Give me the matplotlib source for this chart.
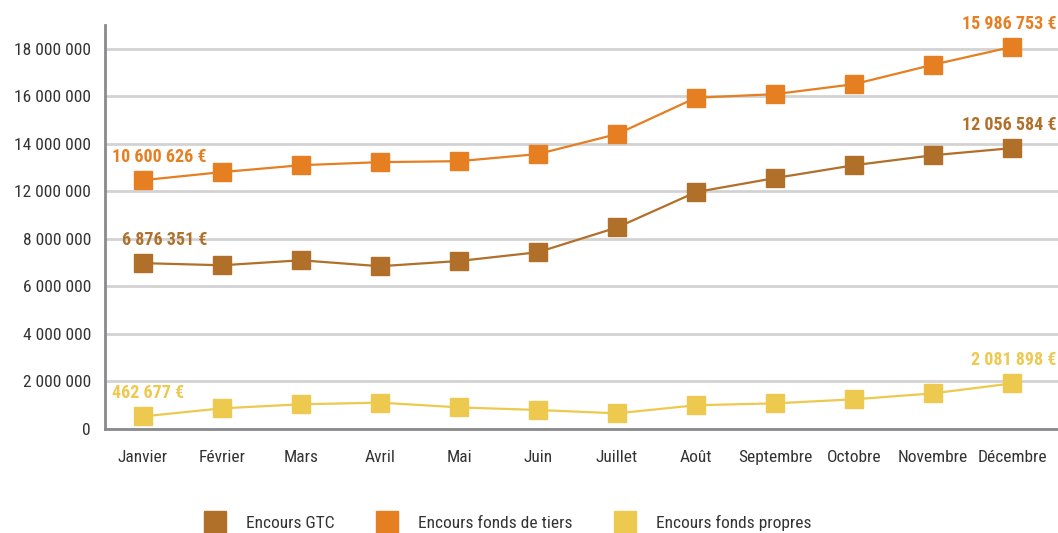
import matplotlib.pyplot as plt
from matplotlib.lines import Line2D
from matplotlib import font_manager

mois = ["Janvier", "Février", "Mars", "Avril", "Mai", "Juin", "Juillet",
        "Août", "Septembre", "Octobre", "Novembre", "Décembre"]

# values, in the chart's own (irregular) axis units, millions
gtc = [6.98, 6.89, 7.10, 6.85, 7.07, 7.44, 8.48, 9.97, 10.56, 11.10, 11.52, 11.82]
tiers = [10.47, 10.81, 11.10, 11.23, 11.27, 11.57, 12.41, 13.94, 14.09, 14.51, 15.33, 16.08]
propres = [0.53, 0.87, 1.04, 1.11, 0.91, 0.80, 0.66, 1.00, 1.08, 1.25, 1.50, 1.92]

tick_pos = [0, 2, 4, 6, 8, 10, 12, 14, 16]
tick_labels = ["0", "2 000 000", "4 000 000", "6 000 000", "8 000 000",
               "12 000 000", "14 000 000", "16 000 000", "18 000 000"]

first_labels = ["6 876 351 €", "10 600 626 €", "462 677 €"]
last_labels = ["12 056 584 €", "15 986 753 €", "2 081 898 €"]

series_names = ["Encours GTC", "Encours fonds de tiers", "Encours fonds propres"]
colors = ["#B0702A", "#E67E22", "#EDC94F"]

names = {f.name for f in font_manager.fontManager.ttflist}
fam = [f for f in ["Liberation Sans Narrow", "Roboto Condensed", "Liberation Sans"] if f in names]
plt.rcParams["font.family"] = fam + ["DejaVu Sans"]

fig = plt.figure(figsize=(10.58, 5.33), dpi=100)
ax = fig.add_axes([0.0992, 0.1951, 0.9008, 0.758])

x = list(range(len(mois)))
for vals, c in zip([gtc, tiers, propres], colors):
    ax.plot(x, vals, color=c, lw=1.6, marker="s", markersize=12.5, zorder=3)

ax.set_xlim(-0.48, 11.58)
ax.set_ylim(0, 17.0)
ax.set_yticks(tick_pos)
ax.set_yticklabels(tick_labels, fontsize=12.5, color="#333333")
ax.set_xticks(x)
ax.set_xticklabels(mois, fontsize=12.5, color="#333333")
ax.tick_params(axis="y", length=0, pad=10)
ax.tick_params(axis="x", length=0, pad=15)
ax.grid(axis="y", color="#D3D3D3", lw=2)
ax.set_axisbelow(True)
for s in ["top", "right"]:
    ax.spines[s].set_visible(False)
for s in ["left", "bottom"]:
    ax.spines[s].set_color("#8A8A8E")
    ax.spines[s].set_linewidth(2)

# value labels
offs_first = [(-0.26, 0.98), (-0.39, 0.98), (-0.39, 0.98)]
for vals, lab, c, o in zip([gtc, tiers, propres], first_labels, colors, offs_first):
    ax.text(x[0] + o[0], vals[0] + o[1], lab, color=c, fontsize=13,
            fontweight="bold", ha="left", va="center")
for vals, lab, c in zip([gtc, tiers, propres], last_labels, colors):
    ax.text(11.56, vals[-1] + 0.98, lab, color=c, fontsize=13,
            fontweight="bold", ha="right", va="center", clip_on=False)

handles = [Line2D([], [], ls="none", marker="s", markersize=16, color=c) for c in colors]
fig.legend(handles, series_names, loc="lower center", bbox_to_anchor=(0.477, -0.025),
           ncol=3, frameon=False, fontsize=12.5, handletextpad=0.8,
           columnspacing=2.0, labelcolor="#333333")

fig.savefig("out.png", dpi=100)
